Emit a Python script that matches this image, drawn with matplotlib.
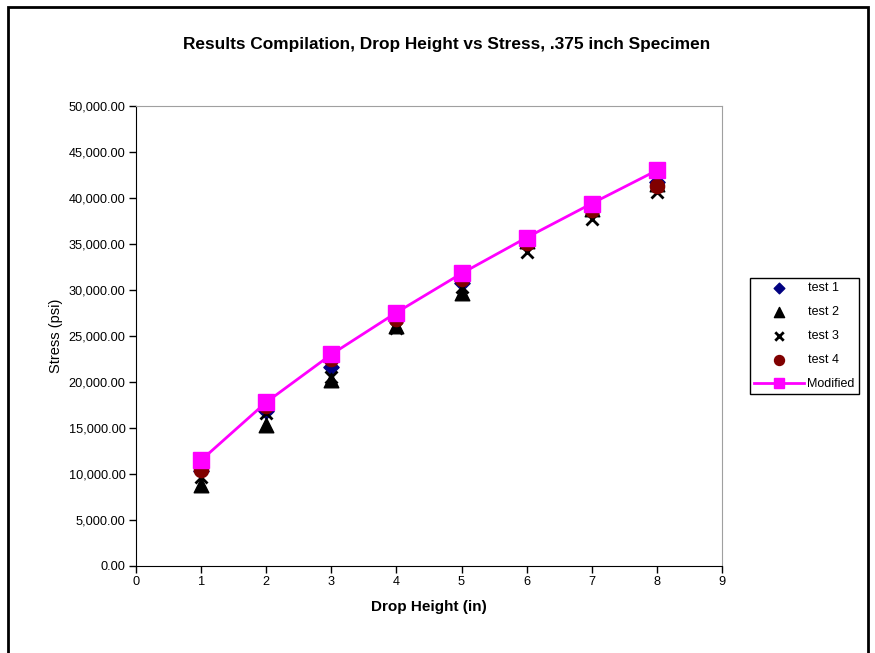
import matplotlib.pyplot as plt
from matplotlib.patches import Rectangle
from matplotlib.ticker import FuncFormatter

plt.rcParams['font.family'] = ['Liberation Sans', 'DejaVu Sans']

# drop height (in) and measured stress (psi)
heights = [1, 2, 3, 4, 5, 6, 7, 8]
test1 = [10300, 16900, 21600, 26700, 30800, 35100, 38700, 41700]
test2 = [8800, 15300, 20200, 26100, 29700, 35300, 38800, 41500]
test3 = [9650, 16600, 20500, 25900, 30300, 34100, 37750, 40600]
test4 = [10400, 17350, 22550, 26900, 31150, 35150, 38700, 41300]
modified = [11500, 17800, 23000, 27550, 31800, 35700, 39400, 43000]

fig = plt.figure(figsize=(8.75, 6.53), dpi=100)
ax = fig.add_axes([136 / 875, 1 - 566 / 653, 586 / 875, 460 / 653])

# chart frame
fig.patches.append(Rectangle((8 / 875, -0.1), 860 / 875, 1.1 - 7 / 653,
                             transform=fig.transFigure, fill=False,
                             edgecolor='black', linewidth=2))

ax.scatter(heights, test1, marker='D', s=60, color='#000080', label='test 1', zorder=3)
ax.scatter(heights, test2, marker='^', s=110, color='black', label='test 2', zorder=3)
ax.scatter(heights, test3, marker='x', s=75, color='black', linewidths=2, label='test 3', zorder=3)
ax.scatter(heights, test4, marker='o', s=105, color='#800000', label='test 4', zorder=3)
ax.plot(heights, modified, color='#FF00FF', linewidth=2, marker='s', markersize=11,
        label='Modified', zorder=4)

ax.set_xlim(0, 9)
ax.set_ylim(0, 50000)
ax.set_xticks(range(0, 10))
ax.set_yticks(range(0, 50001, 5000))
ax.yaxis.set_major_formatter(FuncFormatter(lambda v, p: f'{v:,.2f}'))
ax.tick_params(direction='out', length=5, labelsize=9.2, width=1, pad=2.5)

for side in ['top', 'right']:
    ax.spines[side].set_color('#A0A0A0')
for side in ['left', 'bottom']:
    ax.spines[side].set_color('black')

ax.set_xlabel('Drop Height (in)', fontsize=11, fontweight='bold', labelpad=8)
ax.set_ylabel('Stress (psi)', fontsize=10.5, labelpad=4)
fig.text(447 / 875, 1 - 44 / 653, 'Results Compilation, Drop Height vs Stress, .375 inch Specimen',
         ha='center', va='center', fontsize=12.4, fontweight='bold')

fig.legend(loc='upper left', bbox_to_anchor=(750 / 875, 1 - 278 / 653), fontsize=9,
           frameon=True, fancybox=False, edgecolor='black', framealpha=1,
           borderaxespad=0, borderpad=0.35, labelspacing=0.95, handlelength=4.0,
           handletextpad=0.25, markerscale=0.7)

fig.savefig('out.png', dpi=100)
